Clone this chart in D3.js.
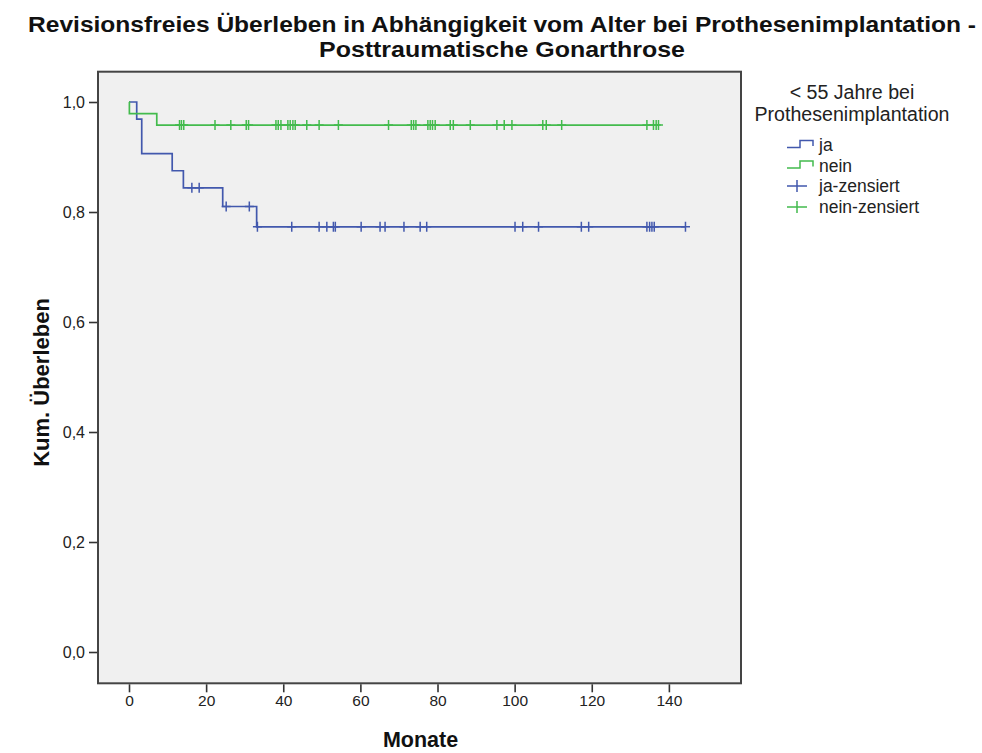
<!DOCTYPE html>
<html>
<head>
<meta charset="utf-8">
<script src="https://cdn.jsdelivr.net/npm/d3@7"></script>
<style>
  html, body { margin: 0; padding: 0; background: #ffffff; }
  svg text { font-family: Arial, "Liberation Sans", sans-serif; }
</style>
</head>
<body>
<svg id="chart" width="982" height="753"></svg>
<script>
// Kaplan-Meier data, revision-free survival by age group at implantation
const groups = ["ja", "nein"];
// event times (months) and survival after each event
const jaEventTimes = [2.0, 3.3, 11.2, 14.1, 24.3, 33.1];
const jaSurvival   = [0.969, 0.906, 0.875, 0.844, 0.810, 0.773];
const jaCensored   = [16.3, 18.2, 25.2, 31.2, 33.3, 42.2, 49.3, 51.3, 53.0, 53.5, 60.2, 65.1, 66.4,
                      71.3, 75.5, 77.2, 100.1, 102.1, 106.2, 117.3, 119.2, 134.3, 135.0, 135.6, 136.2, 144.3];
const neinEventTimes = [0.1, 7.2];
const neinSurvival   = [0.979, 0.958];
const neinCensored   = [13.1, 13.6, 14.2, 22.3, 26.4, 30.4, 31.0, 38.1, 38.7, 39.4, 41.2, 41.8, 42.5, 43.1,
                        46.1, 49.3, 54.3, 67.3, 73.2, 73.8, 74.4, 77.5, 78.1, 78.7, 79.4, 83.3, 84.1, 88.5,
                        95.4, 97.3, 99.3, 107.3, 108.2, 112.2, 134.3, 136.0, 136.7, 137.3];

const xTicks = [0, 20, 40, 60, 80, 100, 120, 140];
const yTicks = [0, 0.2, 0.4, 0.6, 0.8, 1.0];

const titleLines = ["Revisionsfreies Überleben in Abhängigkeit vom Alter bei Prothesenimplantation -",
                    "Posttraumatische Gonarthrose"];
const xLabel = "Monate";
const yLabel = "Kum. Überleben";
const legendTitle = ["< 55 Jahre bei", "Prothesenimplantation"];
const legendItems = ["ja", "nein", "ja-zensiert", "nein-zensiert"];

const colors = { ja: "#4258ad", nein: "#43bb4d" };

const series = {
  ja:   { times: jaEventTimes, surv: jaSurvival, cens: jaCensored },
  nein: { times: neinEventTimes, surv: neinSurvival, cens: neinCensored }
};

const svg = d3.select("#chart");
const frame = { left: 98, right: 741, top: 71.7, bottom: 683.3 };

const x = d3.scaleLinear().domain([-8.04, 158.7]).range([frame.left, frame.right]);
const y = d3.scaleLinear().domain([-0.0569, 1.0551]).range([frame.bottom, frame.top]);

// plot area
svg.append("rect")
  .attr("x", frame.left).attr("y", frame.top)
  .attr("width", frame.right - frame.left).attr("height", frame.bottom - frame.top)
  .attr("fill", "#f0f0f0");

// step value at time t
function survAt(s, t) {
  let v = 1;
  s.times.forEach((et, i) => { if (et <= t) v = s.surv[i]; });
  return v;
}

const lineGen = d3.line().x(d => x(d[0])).y(d => y(d[1])).curve(d3.curveStepAfter);

groups.forEach(g => {
  const s = series[g];
  const end = d3.max(s.cens.concat(s.times));
  const pts = [[0, 1]];
  s.times.forEach((t, i) => pts.push([t, s.surv[i]]));
  pts.push([end, s.surv[s.surv.length - 1]]);
  svg.append("path")
    .attr("d", lineGen(pts))
    .attr("fill", "none")
    .attr("stroke", colors[g])
    .attr("stroke-width", 1.7);

  // censor marks
  svg.append("g").selectAll("path")
    .data(s.cens)
    .join("path")
    .attr("d", t => {
      const cx = x(t), cy = y(survAt(s, t));
      return `M${cx - 4.5},${cy}H${cx + 4.5}M${cx},${cy - 5}V${cy + 5}`;
    })
    .attr("stroke", colors[g])
    .attr("stroke-width", 1.5)
    .attr("fill", "none");
});

// frame border
svg.append("rect")
  .attr("x", frame.left).attr("y", frame.top)
  .attr("width", frame.right - frame.left).attr("height", frame.bottom - frame.top)
  .attr("fill", "none").attr("stroke", "#444").attr("stroke-width", 2);

// axes
const fmt = d => d.toFixed(1).replace(".", ",");
const yAxis = d3.axisLeft(y).tickValues(yTicks).tickFormat(fmt).tickSize(8).tickPadding(4);
const gy = svg.append("g").attr("transform", `translate(${frame.left - 1},0)`).call(yAxis);
gy.select(".domain").remove();
gy.selectAll("line").attr("stroke", "#333").attr("stroke-width", 1.6);
gy.selectAll("text").attr("font-size", 16).attr("fill", "#222")
  .attr("font-family", "Arial, 'Liberation Sans', sans-serif");

const xAxis = d3.axisBottom(x).tickValues(xTicks).tickSize(8).tickPadding(3);
const gx = svg.append("g").attr("transform", `translate(0,${frame.bottom + 1})`).call(xAxis);
gx.select(".domain").remove();
gx.selectAll("line").attr("stroke", "#333").attr("stroke-width", 1.6);
gx.selectAll("text").attr("font-size", 15.5).attr("fill", "#222")
  .attr("font-family", "Arial, 'Liberation Sans', sans-serif");

// title, two lines
const titleWidths = [948, 366];
svg.append("g").selectAll("text")
  .data(titleLines)
  .join("text")
  .attr("x", 502)
  .attr("y", (d, i) => 32 + i * 24.5)
  .attr("text-anchor", "middle")
  .attr("font-size", 22)
  .attr("font-weight", "bold")
  .attr("fill", "#111")
  .attr("textLength", (d, i) => titleWidths[i])
  .attr("lengthAdjust", "spacingAndGlyphs")
  .text(d => d);

// axis titles
svg.append("text")
  .attr("x", (frame.left + frame.right) / 2 + 1).attr("y", 747)
  .attr("text-anchor", "middle")
  .attr("font-size", 21.5).attr("font-weight", "bold").attr("fill", "#111")
  .text(xLabel);

svg.append("text")
  .attr("transform", `translate(49,${(frame.top + frame.bottom) / 2 + 5}) rotate(-90)`)
  .attr("text-anchor", "middle")
  .attr("font-size", 22).attr("font-weight", "bold").attr("fill", "#111")
  .text(yLabel);

// legend
const lg = svg.append("g");
lg.selectAll("text.lt")
  .data(legendTitle)
  .join("text")
  .attr("class", "lt")
  .attr("x", 852).attr("y", (d, i) => 99 + i * 22)
  .attr("text-anchor", "middle")
  .attr("font-size", 19.6).attr("fill", "#222")
  .text(d => d);

const rowY = [145, 165.5, 186, 207];
legendItems.forEach((name, i) => {
  const cy = rowY[i];
  const g = i % 2 === 0 ? "ja" : "nein";
  if (i < 2) {
    lg.append("path")
      .attr("d", `M787,${cy + 2.5}H800V${cy - 4.5}H813V${cy + 1}`)
      .attr("fill", "none").attr("stroke", colors[g]).attr("stroke-width", 1.5);
  } else {
    lg.append("path")
      .attr("d", `M787,${cy}H807M797,${cy - 6}V${cy + 6}`)
      .attr("fill", "none").attr("stroke", colors[g]).attr("stroke-width", 1.5);
  }
  lg.append("text")
    .attr("x", 819).attr("y", cy)
    .attr("dominant-baseline", "central")
    .attr("font-size", 17.5).attr("fill", "#222")
    .text(name);
});
</script>
</body>
</html>
